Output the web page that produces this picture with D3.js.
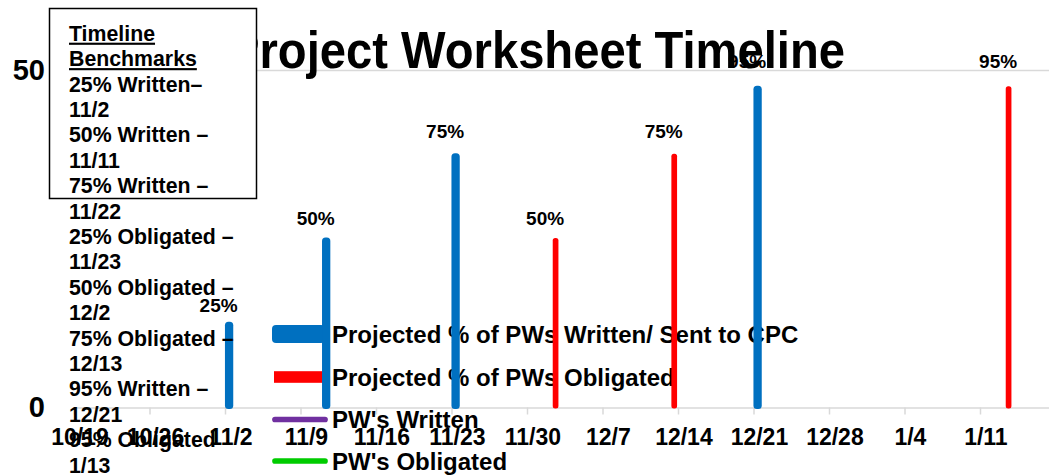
<!DOCTYPE html>
<html>
<head>
<meta charset="utf-8">
<script src="https://cdn.jsdelivr.net/npm/d3@7"></script>
<style>
  html, body { margin: 0; padding: 0; background: #fff; }
  svg { display: block; font-family: "Liberation Sans", Arial, sans-serif; font-weight: bold; }
</style>
</head>
<body>
<svg id="chart" width="1049" height="475"></svg>
<script>
// ---- data ----
const titleText = "Project Worksheet Timeline";
const writtenDates = ["2012-11-02", "2012-11-11", "2012-11-23", "2012-12-21"];
const writtenValues = [12.5, 25, 37.5, 47.5];
const writtenLabels = ["25%", "50%", "75%", "95%"];
const obligatedDates = ["2012-12-02", "2012-12-13", "2013-01-13"];
const obligatedValues = [25, 37.5, 47.5];
const obligatedLabels = ["50%", "75%", "95%"];
const tickDates = ["2012-10-19", "2012-10-26", "2012-11-02", "2012-11-09", "2012-11-16",
  "2012-11-23", "2012-11-30", "2012-12-07", "2012-12-14", "2012-12-21", "2012-12-28",
  "2013-01-04", "2013-01-11"];
const yTicks = [0, 50];
const legendLabels = ["Projected % of PWs Written/ Sent to CPC", "Projected % of PWs Obligated",
  "PW's Written", "PW's Obligated"];
const benchmarkLines = ["Timeline", "Benchmarks", "25% Written\u2013", "11/2", "50% Written \u2013", "11/11",
  "75% Written \u2013", "11/22", "25% Obligated \u2013", "11/23", "50% Obligated \u2013", "12/2",
  "75% Obligated \u2013", "12/13", "95% Written \u2013", "12/21", "95% Obligated", "1/13"];

// ---- layout ----
const svg = d3.select("#chart");
const parse = d3.utcParse("%Y-%m-%d");
const fmt = d3.utcFormat("%-m/%-d");
const x = d3.scaleUtc()
  .domain([parse("2012-10-19"), parse("2013-01-18")])
  .range([74, 1055.5]);
const dayW = x(parse("2012-10-20")) - x(parse("2012-10-19"));
const y = d3.scaleLinear().domain([0, 50]).range([407.5, 70.5]);

const grid = "#d9d9d9";

// gridline at top value
svg.append("line")
  .attr("x1", x.range()[0]).attr("x2", x.range()[1])
  .attr("y1", y(50)).attr("y2", y(50))
  .attr("stroke", grid).attr("stroke-width", 1.5);

// x axis
const xAxis = svg.append("g")
  .attr("transform", `translate(0,${y(0)})`)
  .call(d3.axisBottom(x).tickValues(tickDates.map(parse)).tickFormat(fmt)
    .tickSize(7).tickSizeOuter(0).tickPadding(14));
xAxis.select(".domain").attr("stroke", grid).attr("stroke-width", 1.5);
xAxis.selectAll(".tick line").attr("stroke", grid).attr("stroke-width", 1.5);
xAxis.selectAll(".tick text")
  .attr("x", dayW / 2)
  .attr("fill", "#000")
  .attr("font-size", 23)
  .attr("font-family", "Liberation Sans, Arial, sans-serif")
  .attr("font-weight", "bold");

// y axis labels
const yAxis = svg.append("g")
  .attr("transform", "translate(48,0)")
  .call(d3.axisLeft(y).tickValues(yTicks).tickSize(0).tickPadding(3));
yAxis.select(".domain").remove();
yAxis.selectAll(".tick text")
  .attr("fill", "#000")
  .attr("font-size", 29)
  .attr("font-family", "Liberation Sans, Arial, sans-serif")
  .attr("font-weight", "bold");

// legend
const legY = [334, 377, 419.5, 461];
const leg = svg.append("g");
leg.append("rect").attr("x", 272).attr("y", legY[0] - 9).attr("width", 53).attr("height", 18)
  .attr("rx", 4).attr("fill", "#0070C0");
leg.append("rect").attr("x", 274).attr("y", legY[1] - 5.8).attr("width", 52).attr("height", 11.6)
  .attr("fill", "#FF0000");
leg.append("line").attr("x1", 275).attr("x2", 325).attr("y1", legY[2]).attr("y2", legY[2])
  .attr("stroke", "#7030A0").attr("stroke-width", 5.7).attr("stroke-linecap", "round");
leg.append("line").attr("x1", 275).attr("x2", 325).attr("y1", legY[3]).attr("y2", legY[3])
  .attr("stroke", "#00CC00").attr("stroke-width", 5.7).attr("stroke-linecap", "round");
leg.selectAll("text.leg").data(legendLabels).enter().append("text")
  .attr("class", "leg")
  .attr("x", 332).attr("y", (d, i) => legY[i] + 8.5)
  .attr("font-size", 24).attr("fill", "#000")
  .text(d => d);

// bars
const blueW = 8.3, redW = 5.7;
const written = writtenDates.map((d, i) => ({ date: parse(d), v: writtenValues[i], label: writtenLabels[i] }));
const obligated = obligatedDates.map((d, i) => ({ date: parse(d), v: obligatedValues[i], label: obligatedLabels[i] }));
const blueCx = d => x(d.date) + dayW * 0.38;
const redCx = d => x(d.date) + dayW * 0.65;

svg.append("g").selectAll("rect").data(written).enter().append("rect")
  .attr("x", d => blueCx(d) - blueW / 2).attr("width", blueW)
  .attr("y", d => y(d.v) - 1.5).attr("height", d => y(0) - y(d.v) + 3)
  .attr("rx", 3.5).attr("fill", "#0070C0");
svg.append("g").selectAll("rect").data(obligated).enter().append("rect")
  .attr("x", d => redCx(d) - redW / 2).attr("width", redW)
  .attr("y", d => y(d.v) - 1).attr("height", d => y(0) - y(d.v) + 2)
  .attr("rx", 2.5).attr("fill", "#FF0000");

// data labels
const pctOf = s => parseFloat(s);
const labelGap = d => 9 + 0.11 * pctOf(d.label);
const labels = svg.append("g").attr("font-size", 19).attr("text-anchor", "middle").attr("fill", "#000");
labels.selectAll("text.w").data(written).enter().append("text")
  .attr("x", d => blueCx(d) - 10.5).attr("y", d => y(d.v) - labelGap(d))
  .text(d => d.label);
labels.selectAll("text.o").data(obligated).enter().append("text")
  .attr("x", d => redCx(d) - 10.5).attr("y", d => y(d.v) - labelGap(d))
  .text(d => d.label);

// title
svg.append("text")
  .attr("x", 228).attr("y", 68)
  .attr("font-size", 52)
  .attr("font-family", "'Liberation Sans Narrow', 'Arial Narrow', 'Liberation Sans', Arial, sans-serif")
  .attr("textLength", 617).attr("lengthAdjust", "spacingAndGlyphs")
  .attr("fill", "#000")
  .text(titleText);

// benchmark text box
svg.append("rect")
  .attr("x", 49.5).attr("y", 8.5).attr("width", 207).attr("height", 190)
  .attr("fill", "#fff").attr("stroke", "#000").attr("stroke-width", 1.5);
svg.append("g").selectAll("text").data(benchmarkLines).enter().append("text")
  .attr("x", 69).attr("y", (d, i) => 40.7 + i * 25.4)
  .attr("font-size", 21.3).attr("fill", "#000")
  .style("text-decoration", (d, i) => i < 2 ? "underline" : "none")
  .text(d => d);
</script>
</body>
</html>
